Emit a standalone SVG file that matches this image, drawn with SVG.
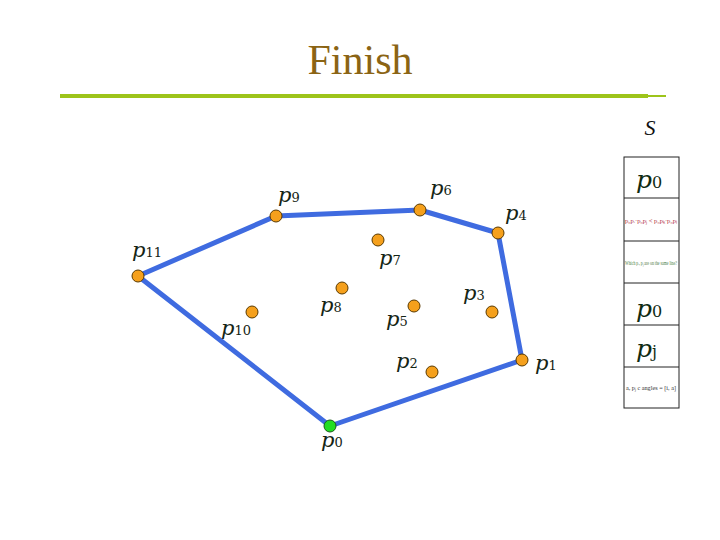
<svg xmlns="http://www.w3.org/2000/svg" width="720" height="540" viewBox="0 0 720 540">
<style>
.lbl{font-family:"DejaVu Serif","Liberation Serif","Times New Roman",serif;font-style:italic;font-size:21px;fill:#142414}
.sub{font-style:normal;font-size:13px}
.pt{fill:#F5A01C;stroke:#5a3a00;stroke-width:1}
.hull{fill:none;stroke:#3F6BE0;stroke-width:5;stroke-linecap:round;stroke-linejoin:round}
.cell{fill:#fff;stroke:#222;stroke-width:1}
.big{font-family:"DejaVu Serif","Liberation Serif","Times New Roman",serif;font-style:italic;font-size:25px;fill:#0f2a12}
.bsub{font-style:normal;font-size:16px}
.tiny{font-family:"Liberation Serif","Times New Roman",serif;font-size:7px}
.title{font-family:"Liberation Serif","Times New Roman",serif;font-size:42px;fill:#8B6414}
.s{font-family:"Liberation Serif","Times New Roman",serif;font-style:italic;font-size:22px;fill:#111}
</style>
<rect width="720" height="540" fill="#fff"/>
<text class="title" x="360" y="74" text-anchor="middle">Finish</text>
<line x1="60" y1="96" x2="648" y2="96" stroke="#9DC41A" stroke-width="4"/>
<line x1="648" y1="96" x2="666" y2="96" stroke="#9DC41A" stroke-width="2"/>
<text class="s" x="650" y="135" text-anchor="middle">S</text>

<g id="connectors">
<polyline class="hull" points="330,426 522,360 498,233 420,210 276,216 138,276 330,426"/>
</g>

<g id="p0"><circle cx="330" cy="426" r="6" fill="#22DD22" stroke="#1a5a1a" stroke-width="1"/><text class="lbl" x="321" y="447">p<tspan class="sub">0</tspan></text></g>
<g id="p1"><circle class="pt" cx="522" cy="360" r="6"/><text class="lbl" x="535" y="370">p<tspan class="sub">1</tspan></text></g>
<g id="p2"><circle class="pt" cx="432" cy="372" r="6"/><text class="lbl" x="396" y="368">p<tspan class="sub">2</tspan></text></g>
<g id="p3"><circle class="pt" cx="492" cy="312" r="6"/><text class="lbl" x="463" y="300">p<tspan class="sub">3</tspan></text></g>
<g id="p4"><circle class="pt" cx="498" cy="233" r="6"/><text class="lbl" x="505" y="220">p<tspan class="sub">4</tspan></text></g>
<g id="p5"><circle class="pt" cx="414" cy="306" r="6"/><text class="lbl" x="386" y="326">p<tspan class="sub">5</tspan></text></g>
<g id="p6"><circle class="pt" cx="420" cy="210" r="6"/><text class="lbl" x="430" y="195">p<tspan class="sub">6</tspan></text></g>
<g id="p7"><circle class="pt" cx="378" cy="240" r="6"/><text class="lbl" x="379" y="265">p<tspan class="sub">7</tspan></text></g>
<g id="p8"><circle class="pt" cx="342" cy="288" r="6"/><text class="lbl" x="320" y="312">p<tspan class="sub">8</tspan></text></g>
<g id="p9"><circle class="pt" cx="276" cy="216" r="6"/><text class="lbl" x="278" y="202">p<tspan class="sub">9</tspan></text></g>
<g id="p10"><circle class="pt" cx="252" cy="312" r="6"/><text class="lbl" x="221" y="335">p<tspan class="sub">10</tspan></text></g>
<g id="p11"><circle class="pt" cx="138" cy="276" r="6"/><text class="lbl" x="132" y="257">p<tspan class="sub">11</tspan></text></g>

<g id="stack">
<rect class="cell" x="624" y="157" width="55" height="251"/>
<line x1="624" y1="198" x2="679" y2="198" stroke="#222"/>
<line x1="624" y1="241" x2="679" y2="241" stroke="#222"/>
<line x1="624" y1="283" x2="679" y2="283" stroke="#222"/>
<line x1="624" y1="325" x2="679" y2="325" stroke="#222"/>
<line x1="624" y1="367" x2="679" y2="367" stroke="#222"/>
<text class="big" x="636" y="188">p<tspan class="bsub">0</tspan></text>
<text class="tiny" x="651" y="223" text-anchor="middle" fill="#B03040" textLength="52" lengthAdjust="spacingAndGlyphs">p₀pᵢ·p₀pⱼ &lt; p₀pₖ·p₀pₗ</text>
<text class="tiny" x="651" y="265" text-anchor="middle" fill="#4a7a40" textLength="52" lengthAdjust="spacingAndGlyphs">Which pᵢ, pⱼ are on the same line?</text>
<text class="big" x="636" y="317">p<tspan class="bsub">0</tspan></text>
<text class="big" x="636" y="357">p<tspan class="bsub" font-style="italic">j</tspan></text>
<text class="tiny" x="651" y="390" text-anchor="middle" fill="#333" textLength="50" lengthAdjust="spacingAndGlyphs">a, pⱼ c angles = [i, a]</text>
</g>
</svg>
